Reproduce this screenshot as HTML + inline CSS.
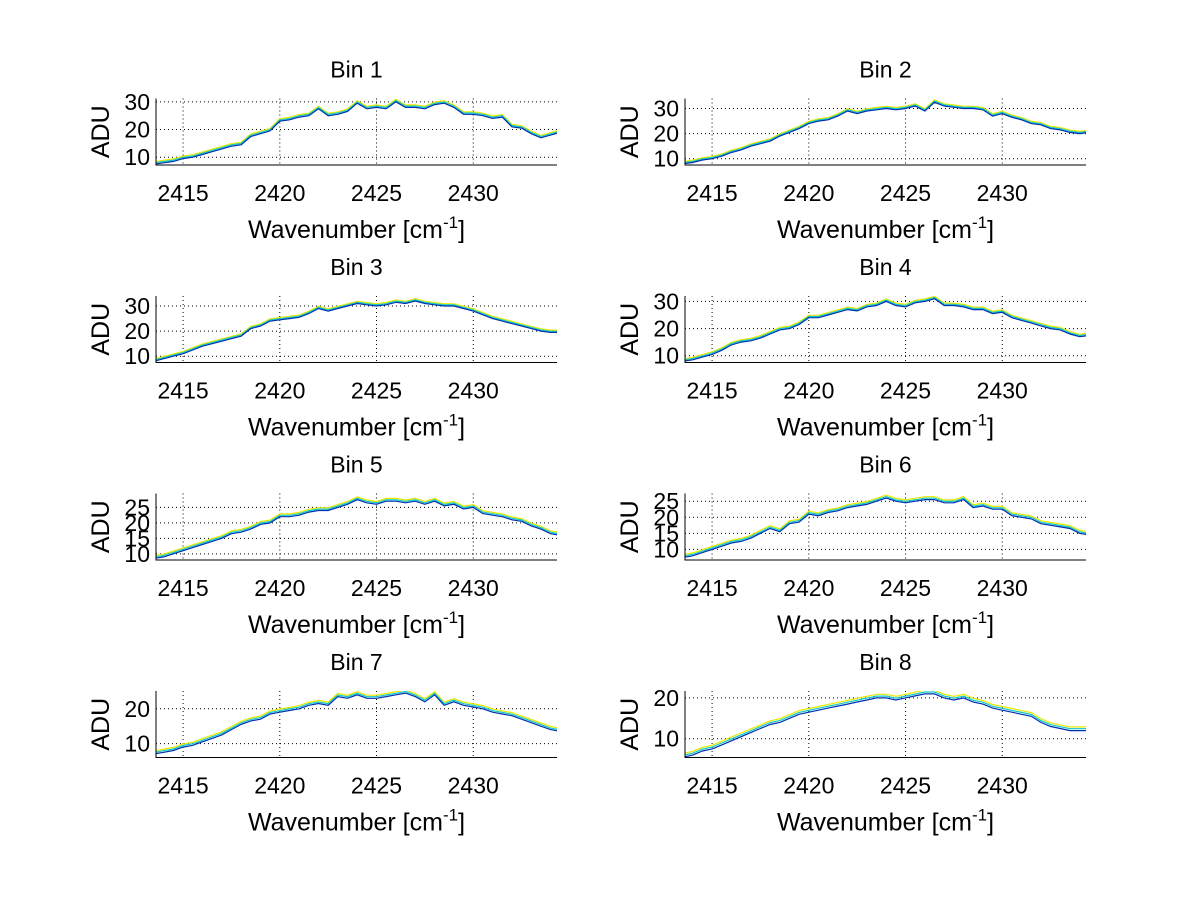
<!DOCTYPE html>
<html><head><meta charset="utf-8"><style>
html,body{margin:0;padding:0;background:#fff;}
svg{display:block;font-family:"Liberation Sans",sans-serif;}
</style></head><body>
<svg id="fig" width="1200" height="901" viewBox="0 0 1200 901" xmlns="http://www.w3.org/2000/svg"></svg>
<script>
const xs=[2413.5,2414,2414.5,2415,2415.5,2416,2416.5,2417,2417.5,2418,2418.5,2419,2419.5,2420,2420.5,2421,2421.5,2422,2422.5,2423,2423.5,2424,2424.5,2425,2425.5,2426,2426.5,2427,2427.5,2428,2428.5,2429,2429.5,2430,2430.5,2431,2431.5,2432,2432.5,2433,2433.5,2434,2434.5];
const bin1=[7.5,8,8.5,9.5,10,11,12,13,14,14.5,17.5,18.5,19.5,23,23.5,24.5,25,27.5,25,25.5,26.5,29.5,27.5,28,27.5,30,28,28,27.5,29,29.5,28,25.5,25.5,25,24,24.5,21,20.5,18.5,17,18,19];
const bin2=[8,8.5,9.5,10,11,12.5,13.5,15,16,17,19,20.5,22,24,25,25.5,27,29,28,29,29.5,30,29.5,30,31,29,32.5,31,30.5,30,30,29.5,27,28,26.5,25.5,24,23.5,22,21.5,20.5,20,20.5];
const bin3=[8,9,10,11,12.5,14,15,16,17,18,21,22,24,24.5,25,25.5,27,29,28,29,30,31,30.5,30,30.5,31.5,31,32,31,30.5,30,30,29,28,26.5,25,24,23,22,21,20,19.5,19.5];
const bin4=[8,8.5,9.5,10.5,12,14,15,15.5,16.5,18,19.5,20,21.5,24,24,25,26,27,26.5,28,28.5,30,28.5,28,29.5,30,31,28.5,28.5,28,27,27,25.5,26,24,23,22,21,20,19.5,18,17,17.5];
const bin5=[8.5,9,10,11,12,13,14,15,16.5,17,18,19.5,20,22,22,22.5,23.5,24,24,25,26,27.5,26.5,26,27,27,26.5,27,26,27,25.5,26,24.5,25,23,22.5,22,21,20.5,19,18,16.5,16];
const bin6=[7.5,8,9,10,11,12,12.5,13.5,15,16.5,15.5,18,18.5,21,20.5,21.5,22,23,23.5,24,25,26,25,24.5,25,25.5,25.5,24.5,24.5,25.5,23,23.5,22.5,22.5,20.5,20,19.5,18,17.5,17,16.5,15,14.5];
const bin7=[7,7.5,8,9,9.5,10.5,11.5,12.5,14,15.5,16.5,17,18.5,19,19.5,20,21,21.5,21,23.5,23,24,23,23,23.5,24,24.5,23.5,22,24,21,22,21,20.5,20,19,18.5,18,17,16,15,14,13.5];
const bin8=[5.5,6,7,7.5,8.5,9.5,10.5,11.5,12.5,13.5,14,15,16,16.5,17,17.5,18,18.5,19,19.5,20,20,19.5,20,20.5,21,21,20,19.5,20,19,18.5,17.5,17,16.5,16,15.5,14,13,12.5,12,12,12];
const bins=[bin1,bin2,bin3,bin4,bin5,bin6,bin7,bin8];
const titles=["Bin 1","Bin 2","Bin 3","Bin 4","Bin 5","Bin 6","Bin 7","Bin 8"];
const ylims=[[7.2,31.2],[7.5,34],[7.5,34],[7.5,32],[8,29.5],[6.7,27.4],[6,25.1],[5.4,21.7]];
const yticksA=[10,20,30];
const yticksB=[10,15,20,25];
const yticksC=[10,20];
const yticksPer=[yticksA,yticksA,yticksA,yticksA,yticksB,yticksB,yticksC,yticksC];
const xticks=[2415,2420,2425,2430];
const xlim=[2413.6,2434.33];
const seriesOffsets=[0.9,0.45,0];
const seriesColors=["#e8e800","#10c8c8","#0030b0"];

const NS="http://www.w3.org/2000/svg";
const svg=document.getElementById('fig');
function mk(tag,attrs,parent){const e=document.createElementNS(NS,tag);for(const k in attrs)e.setAttribute(k,attrs[k]);(parent||svg).appendChild(e);return e;}
const W=401,H=66.5;
for(let i=0;i<8;i++){
  const col=i%2,row=Math.floor(i/2);
  const L=156+col*529,T=98.5+row*197.5;
  const g=mk('g',{});
  
  
  const yl=ylims[i];
  const sx=v=>L+(v-xlim[0])/(xlim[1]-xlim[0])*W;
  const sy=v=>T+H-(v-yl[0])/(yl[1]-yl[0])*H;
  const clipId='c'+i;
  const cp=mk('clipPath',{id:clipId},g);mk('rect',{x:L,y:T,width:W,height:H},cp);
  xticks.forEach(t=>{const l=mk('line',{x1:sx(t),x2:sx(t),y1:T,y2:T+H,stroke:'#000','stroke-width':1,'stroke-dasharray':'1,3'},g);
    
    const tx=mk('text',{x:sx(t),y:T+H+36,'font-size':23,'text-anchor':'middle'},g);tx.textContent=t;
    });
  yticksPer[i].forEach(t=>{const l=mk('line',{x1:L,x2:L+W,y1:sy(t),y2:sy(t),stroke:'#000','stroke-width':1,'stroke-dasharray':'1,3'},g);
    
    const tx=mk('text',{x:L-6,y:sy(t)+8,'font-size':23,'text-anchor':'end'},g);tx.textContent=t;
    });
  seriesOffsets.forEach((off,s)=>{
    const d=xs.map((x,k)=>(k?'L':'M')+sx(x).toFixed(1)+','+sy(bins[i][k]+off).toFixed(1)).join('');
    const p=mk('path',{d:d,fill:'none',stroke:seriesColors[s],'stroke-width':1.2,'clip-path':'url(#'+clipId+')'},g);
    
    
  });
  const ax=mk('path',{d:`M${L},${T}V${T+H}H${L+W}`,fill:'none',stroke:'#000','stroke-width':1},g);
  
  const ti=mk('text',{x:L+W/2,y:T-21,'font-size':23,'text-anchor':'middle'},g);ti.textContent=titles[i];
  
  const xl=mk('text',{x:L+W/2,y:T+H+73,'font-size':25,'text-anchor':'middle'},g);
  xl.innerHTML='Wavenumber [cm<tspan dy="-10" font-size="17">-1</tspan><tspan dy="10">]</tspan>';
  
  const yt=mk('text',{x:0,y:0,'font-size':25,'text-anchor':'middle',transform:`translate(${L-47},${T+H/2}) rotate(-90)`},g);yt.textContent='ADU';
  
}
</script>
</body></html>
